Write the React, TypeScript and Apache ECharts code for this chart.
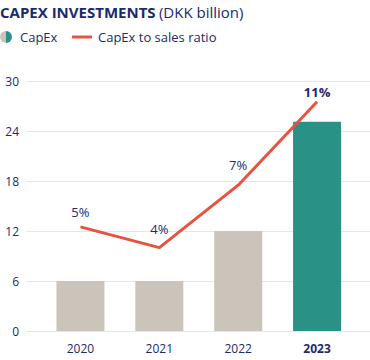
import React, { useEffect, useRef } from "react";
import * as echarts from "echarts";

const years = ["2020", "2021", "2022", "2023"];
const capex = [6, 6, 12, 25.1];
const ratio = [5, 4, 7, 11];
const yTicks = [0, 6, 12, 18, 24, 30];

const NAVY = "#1b2a6b";
const GRAY = "#cbc4bb";
const TEAL = "#2a9187";
const RED = "#e8533f";
const FONT = "'Open Sans', 'Noto Sans', sans-serif";

const labelDistances = [8, 12, 13, 3];

export default function App() {
  const ref = useRef<HTMLDivElement>(null);
  useEffect(() => {
    if (!ref.current) return;
    const chart = echarts.init(ref.current, null, { renderer: "svg" });
    chart.setOption({
      animation: false,
      textStyle: { fontFamily: FONT },
      grid: [
        { left: 27, right: 0, top: 81, bottom: 29 },
        { left: 41, right: 13.5, top: 81, bottom: 29 },
      ],
      xAxis: [
        { type: "value", gridIndex: 0, show: false, min: 0, max: 1 },
        {
          type: "category",
          gridIndex: 1,
          data: years,
          axisLine: { show: false },
          axisTick: { show: false },
          axisLabel: {
            margin: 11,
            fontSize: 12,
            fontFamily: FONT,
            color: NAVY,
            formatter: (v: string) => (v === "2023" ? `{b|${v}}` : v),
            rich: { b: { fontWeight: "bold", fontSize: 12, fontFamily: FONT, color: NAVY } },
          },
        },
      ],
      yAxis: [
        {
          type: "value",
          gridIndex: 0,
          min: yTicks[0],
          max: yTicks[yTicks.length - 1],
          interval: 6,
          axisLine: { show: false },
          axisTick: { show: false },
          axisLabel: { fontSize: 12, fontFamily: FONT, color: NAVY, margin: 8 },
          splitLine: { lineStyle: { color: "#e6e6e6", width: 1 } },
        },
        { type: "value", gridIndex: 1, min: 0, max: 30, show: false, splitLine: { show: false } },
        { type: "value", gridIndex: 1, min: 0, max: 12, show: false, splitLine: { show: false } },
      ],
      series: [
        {
          type: "bar",
          xAxisIndex: 1,
          yAxisIndex: 1,
          barWidth: 48,
          data: capex.map((v, i) => ({
            value: v,
            itemStyle: { color: i === capex.length - 1 ? TEAL : GRAY },
          })),
        },
        {
          type: "line",
          xAxisIndex: 1,
          yAxisIndex: 2,
          showSymbol: true,
          symbol: "circle",
          symbolSize: 1,
          itemStyle: { color: "rgba(0,0,0,0)" },
          lineStyle: { color: RED, width: 3 },
          labelLayout: { hideOverlap: false },
          data: ratio.map((v, i) => ({
            value: v,
            label: {
              show: true,
              position: "top",
              distance: labelDistances[i],
              formatter: "{c}%",
              fontSize: 13,
              fontFamily: FONT,
              color: NAVY,
              fontWeight: i === ratio.length - 1 ? "bold" : "normal",
            },
          })),
        },
      ],
      graphic: [
        {
          type: "text",
          left: 0,
          top: 4,
          style: {
            text: "{b|CAPEX INVESTMENTS} {n|(DKK billion)}",
            rich: {
              b: { fontSize: 15, fontWeight: "bold", fontFamily: FONT, fill: NAVY },
              n: { fontSize: 15, fontFamily: FONT, fill: NAVY },
            },
          },
        },
        {
          type: "sector",
          shape: { cx: 6, cy: 37, r: 6, startAngle: Math.PI / 2, endAngle: (3 * Math.PI) / 2 },
          style: { fill: GRAY },
        },
        {
          type: "sector",
          shape: { cx: 6, cy: 37, r: 6, startAngle: -Math.PI / 2, endAngle: Math.PI / 2 },
          style: { fill: TEAL },
        },
        {
          type: "text",
          x: 20,
          y: 37,
          style: { text: "CapEx", fontSize: 13, fontFamily: FONT, fill: NAVY, verticalAlign: "middle" },
        },
        {
          type: "line",
          shape: { x1: 72, y1: 37, x2: 92, y2: 37 },
          style: { stroke: RED, lineWidth: 3 },
        },
        {
          type: "text",
          x: 98,
          y: 37,
          style: {
            text: "CapEx to sales ratio",
            fontSize: 13,
            fontFamily: FONT,
            fill: NAVY,
            verticalAlign: "middle",
          },
        },
      ],
    });
    return () => chart.dispose();
  }, []);
  return <div ref={ref} style={{ width: 370, height: 360, position: "absolute", left: 0, top: 0 }} />;
}
